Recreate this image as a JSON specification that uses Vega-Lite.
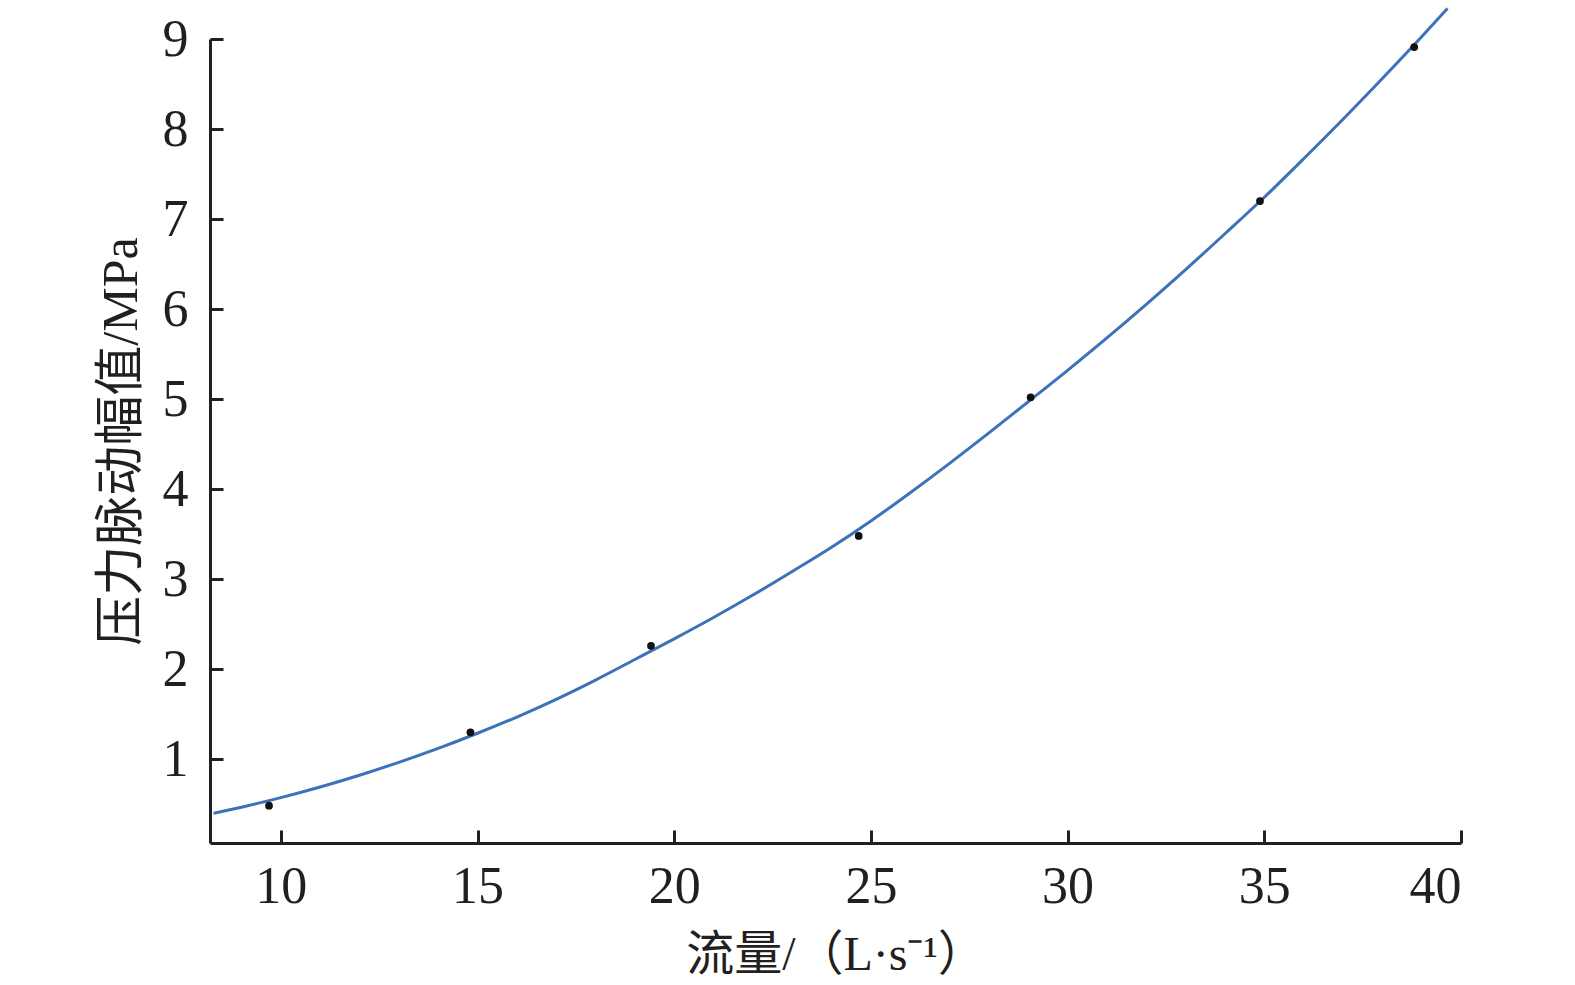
{
  "$schema": "https://vega.github.io/schema/vega-lite/v6.json",
  "width": 1251,
  "height": 804,
  "autosize": {"type": "none"},
  "padding": {"left": 210, "top": 39, "right": 114, "bottom": 142},
  "background": "white",
  "config": {
    "view": {"stroke": null},
    "axis": {
      "domainColor": "#231f20",
      "domainWidth": 3,
      "tickColor": "#231f20",
      "tickWidth": 3,
      "tickSize": -13,
      "grid": false,
      "labelFont": "Liberation Serif",
      "labelFontSize": 52,
      "labelColor": "#231f20",
      "titleFont": "Liberation Serif, Noto Sans CJK SC",
      "titleFontSize": 48,
      "titleFontWeight": "normal",
      "titleColor": "#231f20"
    }
  },
  "datasets": {
    "curve": [
      {"q": 8.29, "p": 0.40},
      {"q": 9, "p": 0.468},
      {"q": 10, "p": 0.574},
      {"q": 11, "p": 0.692},
      {"q": 12, "p": 0.823},
      {"q": 13, "p": 0.966},
      {"q": 14, "p": 1.121},
      {"q": 15, "p": 1.289},
      {"q": 16, "p": 1.469},
      {"q": 17, "p": 1.666},
      {"q": 18, "p": 1.880},
      {"q": 19, "p": 2.108},
      {"q": 20, "p": 2.338},
      {"q": 21, "p": 2.575},
      {"q": 22, "p": 2.824},
      {"q": 23, "p": 3.086},
      {"q": 24, "p": 3.355},
      {"q": 25, "p": 3.647},
      {"q": 26, "p": 3.961},
      {"q": 27, "p": 4.287},
      {"q": 28, "p": 4.625},
      {"q": 29, "p": 4.971},
      {"q": 30, "p": 5.320},
      {"q": 31, "p": 5.680},
      {"q": 32, "p": 6.053},
      {"q": 33, "p": 6.439},
      {"q": 34, "p": 6.837},
      {"q": 35, "p": 7.242},
      {"q": 36, "p": 7.670},
      {"q": 37, "p": 8.109},
      {"q": 38, "p": 8.562},
      {"q": 39, "p": 9.026},
      {"q": 39.66, "p": 9.34}
    ],
    "measured": [
      {"q": 9.70, "p": 0.485},
      {"q": 14.82, "p": 1.30},
      {"q": 19.41, "p": 2.26},
      {"q": 24.69, "p": 3.48},
      {"q": 29.06, "p": 5.02},
      {"q": 34.89, "p": 7.20},
      {"q": 38.81, "p": 8.91}
    ]
  },
  "layer": [
    {
      "data": {"name": "curve"},
      "mark": {"type": "line", "color": "#3b72b8", "strokeWidth": 3, "clip": false, "interpolate": "monotone"},
      "encoding": {
        "x": {
          "field": "q", "type": "quantitative",
          "scale": {"domain": [8.2, 40], "nice": false, "zero": false},
          "axis": {"values": [10, 15, 20, 25, 30, 35, 40], "format": "d", "title": "流量/（L·s⁻¹）", "labelPadding": 31, "titlePadding": 19}
        },
        "y": {
          "field": "p", "type": "quantitative",
          "scale": {"domain": [0.07, 9], "nice": false, "zero": false},
          "axis": {"values": [1, 2, 3, 4, 5, 6, 7, 8, 9], "format": "d", "title": "压力脉动幅值/MPa", "labelPadding": 35, "titlePadding": 16, "titleFontSize": 50}
        }
      }
    },
    {
      "data": {"name": "measured"},
      "mark": {"type": "circle", "color": "#111111", "size": 60, "opacity": 1, "clip": false},
      "encoding": {
        "x": {"field": "q", "type": "quantitative"},
        "y": {"field": "p", "type": "quantitative"}
      }
    }
  ]
}
